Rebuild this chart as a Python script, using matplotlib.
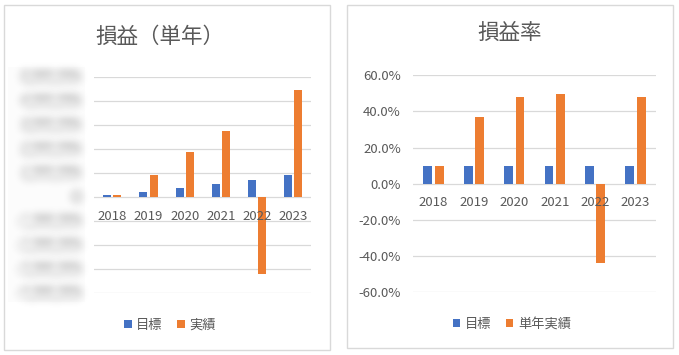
import numpy as np
import matplotlib
matplotlib.use('Agg')
import matplotlib.pyplot as plt
from matplotlib.patches import Rectangle
from matplotlib.transforms import offset_copy

plt.rcParams['font.family'] = ['Noto Sans CJK JP', 'DejaVu Sans']

# データ
years = ['2018', '2019', '2020', '2021', '2022', '2023']
# 損益（単年） 目盛りはぼかしてあるので値は目盛り単位から読んだ推定
profit_target = [80000, 210000, 375000, 540000, 710000, 920000]
profit_actual = [80000, 920000, 1875000, 2750000, -3190000, 4460000]
profit_ticks = [-4000000, -3000000, -2000000, -1000000, 0,
                1000000, 2000000, 3000000, 4000000, 5000000]
# 損益率
rate_target = [0.10, 0.10, 0.10, 0.10, 0.10, 0.10]
rate_actual = [0.10, 0.372, 0.48, 0.494, -0.439, 0.478]
rate_ticks = [-0.6, -0.4, -0.2, 0.0, 0.2, 0.4, 0.6]

BLUE = '#4472C4'
ORANGE = '#ED7D31'
GRID = '#D9D9D9'
TEXT = '#595959'


# テキストをぼかすフィルタ
class Blur:
    def __init__(self, sigma):
        self.sigma = sigma

    def __call__(self, im, dpi):
        pad = int(self.sigma * 3)
        src = np.pad(im, [(pad, pad), (pad, pad), (0, 0)], 'constant')
        x = np.arange(-pad, pad + 1)
        k = np.exp(-0.5 * (x / self.sigma) ** 2)
        k = k / k.sum()
        out = np.apply_along_axis(lambda m: np.convolve(m, k, mode='same'), 0, src)
        out = np.apply_along_axis(lambda m: np.convolve(m, k, mode='same'), 1, out)
        return out, -pad, -pad


def bar_panel(ax, target, actual, ticks, ymin, ymax):
    xs = np.arange(len(years))
    w = 0.22
    ax.bar(xs - 0.14, target, w, color=BLUE, zorder=2)
    ax.bar(xs + 0.14, actual, w, color=ORANGE, zorder=2)
    ax.set_xlim(-0.5, len(years) - 0.5)
    ax.set_ylim(ymin, ymax)
    ax.set_yticks(ticks)
    ax.set_xticks([])
    ax.set_axisbelow(True)
    ax.yaxis.grid(True, color=GRID, linewidth=0.9)
    for s in ax.spines.values():
        s.set_visible(False)
    ax.tick_params(axis='y', length=0)
    tr = offset_copy(ax.transData, fig=ax.figure, y=-19, units='dots')
    for i, y in enumerate(years):
        ax.text(i, 0, y, transform=tr, ha='center', va='center',
                fontsize=9.5, color=TEXT, zorder=5)


fig = plt.figure(figsize=(6.79, 3.55), dpi=100)
fig.patch.set_facecolor('white')

# 枠
fig.patches.append(Rectangle((0.0063, 0.0141), 0.4801, 0.9718, transform=fig.transFigure,
                             facecolor='none', edgecolor=GRID, linewidth=1.0))
fig.patches.append(Rectangle((0.5115, 0.0189), 0.4801, 0.9679, transform=fig.transFigure,
                             facecolor='none', edgecolor=GRID, linewidth=1.0))
# ぼかし部分の背景
fig.patches.append(Rectangle((0.012, 0.149), 0.113, 0.662, transform=fig.transFigure,
                             facecolor='#FCFCFC', edgecolor='none', zorder=-1))

# 左: 損益（単年）
ax1 = fig.add_axes([0.1387, 0.1746, 0.3199, 0.6076])
ax1.patch.set_alpha(0)
bar_panel(ax1, profit_target, profit_actual, profit_ticks, -4000000, 5000000)
ax1.set_yticklabels([])
ytr = ax1.get_yaxis_transform()
for t in profit_ticks:
    lab = '{:,}'.format(t) if t != 0 else '0'
    txt = ax1.text(-0.065, t, lab, transform=ytr, ha='right', va='center',
                   fontsize=9.5, color='#606060' if t != 0 else '#D0D0D0', clip_on=False)
    txt.set_agg_filter(Blur(4.5))
fig.text(0.2356, 0.8958, '損益（単年）', ha='center', va='center', fontsize=15.5, color=TEXT)
ax1.legend(['目標', '実績'], loc='center', bbox_to_anchor=(0.2504, 0.0845),
           bbox_transform=fig.transFigure, ncol=2, frameon=False, fontsize=9.5,
           labelcolor=TEXT, handlelength=0.55, handleheight=0.55,
           handletextpad=0.35, columnspacing=1.1)

# 右: 損益率
ax2 = fig.add_axes([0.6087, 0.1766, 0.357, 0.6113])
bar_panel(ax2, rate_target, rate_actual, rate_ticks, -0.6, 0.6)
ax2.set_yticklabels(['{:.1f}%'.format(v * 100) for v in rate_ticks])
ax2.tick_params(axis='y', pad=9, labelsize=9.5, labelcolor=TEXT)
fig.text(0.7511, 0.907, '損益率', ha='center', va='center', fontsize=15.5, color=TEXT)
ax2.legend(['目標', '単年実績'], loc='center', bbox_to_anchor=(0.754, 0.0873),
           bbox_transform=fig.transFigure, ncol=2, frameon=False, fontsize=9.5,
           labelcolor=TEXT, handlelength=0.55, handleheight=0.55,
           handletextpad=0.35, columnspacing=1.1)

plt.savefig('out.png', dpi=100)
